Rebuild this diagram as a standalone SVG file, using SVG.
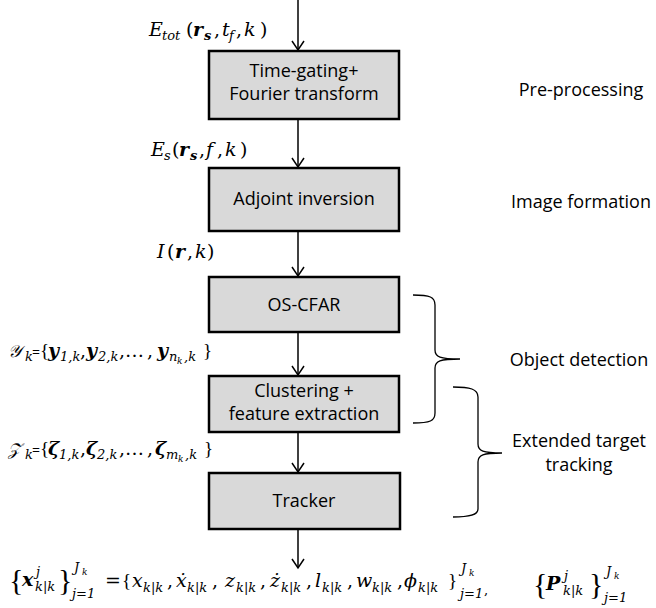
<svg xmlns="http://www.w3.org/2000/svg" width="656" height="608" viewBox="0 0 656 608">
<style>
.box{fill:#d9d9d9;stroke:#000;stroke-width:2.5}
.t{font-family:"Open Sans","Noto Sans",sans-serif;font-size:18px;fill:#000;text-anchor:middle}
.m{font-family:"DejaVu Serif",serif;font-style:italic;font-size:19px;fill:#000}
.s{font-size:13px}
.ss{font-size:9px}
.b{font-weight:bold}
.u{font-style:normal}
.lb{font-family:"Liberation Serif",serif;font-style:normal}
.br{font-family:"Liberation Serif",serif;font-style:normal;font-size:30px}
.eq{font-family:"Open Sans",sans-serif;font-style:normal;font-size:14px}
.cn{fill:none;stroke:#000;stroke-width:1.5}
.brace{fill:none;stroke:#000;stroke-width:1.3}
</style>
<defs>
<marker id="ah" markerUnits="userSpaceOnUse" markerWidth="14" markerHeight="14" refX="10" refY="7" orient="auto">
<path d="M1,1 L10,7 L1,13" fill="none" stroke="#000" stroke-width="1.5"/>
</marker>
</defs>
<rect width="656" height="608" fill="#fff"/>
<g id="connectors">
<line class="cn" x1="298" y1="0" x2="298" y2="50" marker-end="url(#ah)"/>
<line class="cn" x1="298" y1="120" x2="298" y2="167" marker-end="url(#ah)"/>
<line class="cn" x1="298" y1="232" x2="298" y2="276" marker-end="url(#ah)"/>
<line class="cn" x1="298" y1="333" x2="298" y2="375" marker-end="url(#ah)"/>
<line class="cn" x1="298" y1="433" x2="298" y2="472" marker-end="url(#ah)"/>
<line class="cn" x1="298" y1="530" x2="298" y2="568" marker-end="url(#ah)"/>
</g>
<g id="node-preprocess">
<rect class="box" x="209" y="51" width="190" height="68"/>
<text class="t" x="304" y="77">Time-gating+</text>
<text class="t" x="304" y="100">Fourier transform</text>
</g>
<g id="node-adjoint">
<rect class="box" x="209" y="168" width="190" height="63"/>
<text class="t" x="304" y="205">Adjoint inversion</text>
</g>
<g id="node-oscfar">
<rect class="box" x="209" y="277" width="190" height="55"/>
<text class="t" x="304" y="311">OS-CFAR</text>
</g>
<g id="node-clustering">
<rect class="box" x="209" y="376" width="190" height="56"/>
<text class="t" x="304" y="397">Clustering +</text>
<text class="t" x="304" y="420">feature extraction</text>
</g>
<g id="node-tracker">
<rect class="box" x="209" y="473" width="191" height="56"/>
<text class="t" x="304" y="507">Tracker</text>
</g>
<g id="stage-labels">
<text class="t" x="581" y="96">Pre-processing</text>
<text class="t" x="581" y="208">Image formation</text>
<text class="t" x="579" y="366">Object detection</text>
<text class="t" x="579" y="447">Extended target</text>
<text class="t" x="579" y="471">tracking</text>
<path class="brace" d="M413,295 C430,295 435,297 435,305 L435,350 C435,357 440,359 460,359 C440,359 435,361 435,368 L435,413 C435,421 430,423 413,423"/>
<path class="brace" d="M453,387 C470,387 478,389 478,397 L478,444 C478,451 483,453 502,453 C483,453 478,455 478,462 L478,509 C478,515 470,517 453,517"/>
</g>
<g id="signal-labels">
<text class="m" y="36"><tspan x="149">E</tspan><tspan class="s" x="162" dy="4">tot</tspan><tspan class="u" x="186" dy="-4">(</tspan><tspan class="b" x="193">r</tspan><tspan class="b s" x="204" dy="4">s</tspan><tspan class="u" x="214" dy="-4">,</tspan><tspan x="222">t</tspan><tspan class="s" x="229" dy="4">f</tspan><tspan class="u" x="236" dy="-4">,</tspan><tspan x="244">k</tspan><tspan class="u" x="260">)</tspan></text>
<text class="m" y="156"><tspan x="151">E</tspan><tspan class="s" x="164" dy="4">s</tspan><tspan class="u" x="172" dy="-4">(</tspan><tspan class="b" x="179">r</tspan><tspan class="b s" x="190" dy="4">s</tspan><tspan class="u" x="199" dy="-4">,</tspan><tspan x="206">f</tspan><tspan class="u" x="217">,</tspan><tspan x="225">k</tspan><tspan class="u" x="240">)</tspan></text>
<text class="m" y="258"><tspan x="157">I</tspan><tspan class="u" x="167">(</tspan><tspan class="b" x="175">r</tspan><tspan class="u" x="187">,</tspan><tspan x="195">k</tspan><tspan class="u" x="207">)</tspan></text>
<text class="m" y="357"><tspan x="8" font-size="17">𝒴</tspan><tspan class="s" x="25" dy="4">k</tspan><tspan class="eq" x="32" dy="-4">=</tspan><tspan class="lb" x="40">{</tspan><tspan class="b" x="48">y</tspan><tspan class="s" x="60" dy="4">1,k</tspan><tspan class="u" x="80" dy="-4">,</tspan><tspan class="b" x="86">y</tspan><tspan class="s" x="98" dy="4">2,k</tspan><tspan class="u" x="119" dy="-4">,</tspan><tspan class="u" x="125">…</tspan><tspan class="u" x="147">,</tspan><tspan class="b" x="157">y</tspan><tspan class="s" x="169" dy="4">n</tspan><tspan class="ss" x="177" dy="3">k</tspan><tspan class="s" x="184" dy="-3">,k</tspan><tspan class="lb" x="203" dy="-4">}</tspan></text>
<text class="m" y="455"><tspan x="8" font-size="17">𝒵</tspan><tspan class="s" x="25" dy="4">k</tspan><tspan class="eq" x="32" dy="-4">=</tspan><tspan class="lb" x="40">{</tspan><tspan class="b" x="48">ζ</tspan><tspan class="s" x="59" dy="4">1,k</tspan><tspan class="u" x="80" dy="-4">,</tspan><tspan class="b" x="86">ζ</tspan><tspan class="s" x="97" dy="4">2,k</tspan><tspan class="u" x="119" dy="-4">,</tspan><tspan class="u" x="125">…</tspan><tspan class="u" x="147">,</tspan><tspan class="b" x="155">ζ</tspan><tspan class="s" x="166" dy="4">m</tspan><tspan class="ss" x="178" dy="3">k</tspan><tspan class="s" x="185" dy="-3">,k</tspan><tspan class="lb" x="204" dy="-4">}</tspan></text>
</g>
<g id="output-formula">
<text class="m" y="586"><tspan class="br" x="9" dy="4">{</tspan><tspan class="b" x="22" dy="-4">x</tspan><tspan class="s" x="36" dy="-10">j</tspan><tspan class="s" x="35" dy="15">k|k</tspan><tspan class="br" x="58" dy="-1">}</tspan><tspan class="s" x="74" dy="-18">J</tspan><tspan class="ss" x="82" dy="3">k</tspan><tspan class="s" x="72" dy="23">j=1</tspan><tspan class="u" x="105" dy="-11">=</tspan><tspan class="lb" x="122">{</tspan><tspan x="132">x</tspan><tspan class="s" x="143" dy="5">k|k</tspan><tspan class="u" x="167" dy="-5">,</tspan><tspan x="176">ẋ</tspan><tspan class="s" x="187" dy="5">k|k</tspan><tspan class="u" x="212" dy="-5">,</tspan><tspan x="225">z</tspan><tspan class="s" x="236" dy="5">k|k</tspan><tspan class="u" x="260" dy="-5">,</tspan><tspan x="270">ż</tspan><tspan class="s" x="281" dy="5">k|k</tspan><tspan class="u" x="306" dy="-5">,</tspan><tspan x="315">l</tspan><tspan class="s" x="322" dy="5">k|k</tspan><tspan class="u" x="347" dy="-5">,</tspan><tspan x="356">w</tspan><tspan class="s" x="372" dy="5">k|k</tspan><tspan class="u" x="397" dy="-5">,</tspan><tspan x="404">ϕ</tspan><tspan class="s" x="418" dy="5">k|k</tspan><tspan class="lb" x="448" dy="-5">}</tspan><tspan class="s" x="461" dy="-14">J</tspan><tspan class="ss" x="469" dy="3">k</tspan><tspan class="s" x="460" dy="22">j=1</tspan><tspan class="s u" x="484" dy="-4">,</tspan><tspan class="br" x="533" dy="0">{</tspan><tspan class="b" x="546" dy="-4">P</tspan><tspan class="s" x="564" dy="-10">j</tspan><tspan class="s" x="563" dy="15">k|k</tspan><tspan class="br" x="589" dy="-1">}</tspan><tspan class="s" x="606" dy="-18">J</tspan><tspan class="ss" x="614" dy="3">k</tspan><tspan class="s" x="604" dy="23">j=1</tspan></text>
</g>
</svg>
